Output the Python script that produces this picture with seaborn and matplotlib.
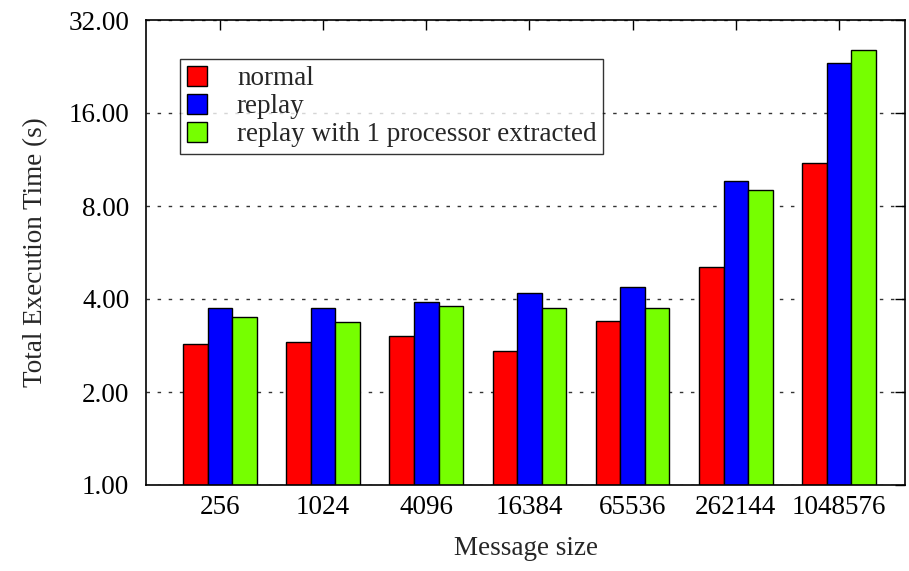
import pandas as pd
import numpy as np
import matplotlib
matplotlib.use('Agg')
import matplotlib.pyplot as plt
import seaborn as sns
from matplotlib.ticker import FixedLocator, FormatStrFormatter, NullLocator

# values (seconds)
sizes = ['256', '1024', '4096', '16384', '65536', '262144', '1048576']
normal = [2.85, 2.90, 3.03, 2.72, 3.40, 5.06, 11.05]
replay = [3.73, 3.73, 3.90, 4.19, 4.37, 9.67, 23.2]
replay_extracted = [3.51, 3.36, 3.81, 3.73, 3.73, 9.04, 25.5]
series_names = ['normal', 'replay', 'replay with 1 processor extracted']
colors = ['#ff0000', '#0000ff', '#76ff00']

df = pd.DataFrame({'size': sizes * 3,
                   'time': normal + replay + replay_extracted,
                   'series': np.repeat(series_names, len(sizes))})

sns.set_style('white')
plt.rcParams['font.family'] = ['Liberation Serif', 'DejaVu Serif']
plt.rcParams['font.size'] = 19.5

f = plt.figure(figsize=(9.09, 5.71), dpi=100)
ax = f.add_axes([146/909, 1-485/571, 759/909, 465/571])

sns.barplot(data=df, x='size', y='time', hue='series', order=sizes, hue_order=series_names,
            palette=colors, width=0.714, edgecolor='black', linewidth=1.0, saturation=1, ax=ax)

ax.set_yscale('log', base=2)
ax.set_ylim(1, 32)
ax.yaxis.set_major_locator(FixedLocator([1, 2, 4, 8, 16, 32]))
ax.yaxis.set_major_formatter(FormatStrFormatter('%.2f'))
ax.yaxis.set_minor_locator(NullLocator())
ax.set_xlim(-0.717, 6.64)

ax.set_axisbelow(True)
ax.yaxis.grid(True, color='#333333', linestyle=(0, (2.5, 5.5)), linewidth=1.0)
ax.xaxis.grid(False)

for s in ax.spines.values():
    s.set_color('black')
    s.set_linewidth(1.2)
ax.tick_params(axis='both', direction='in', top=True, right=True, length=7, width=1, colors='black',
               labelsize=19.5)
ax.tick_params(axis='y', pad=12)
ax.tick_params(axis='x', pad=7)

ax.set_xlabel('Message size', fontsize=19.5, labelpad=12)
ax.set_ylabel('Total Execution Time (s)', fontsize=19.5, labelpad=15)

leg = ax.legend(loc='upper left', bbox_to_anchor=(0.0448, 0.916), frameon=True, fancybox=False,
                fontsize=19.5, handlelength=0.75, handleheight=0.75, handletextpad=1.1,
                labelspacing=0.1, borderpad=0.25, borderaxespad=0)
leg.get_frame().set_edgecolor('black')
leg.get_frame().set_linewidth(1.0)
for h in leg.legend_handles:
    h.set_edgecolor('black')

f.savefig('out.png', dpi=100)
